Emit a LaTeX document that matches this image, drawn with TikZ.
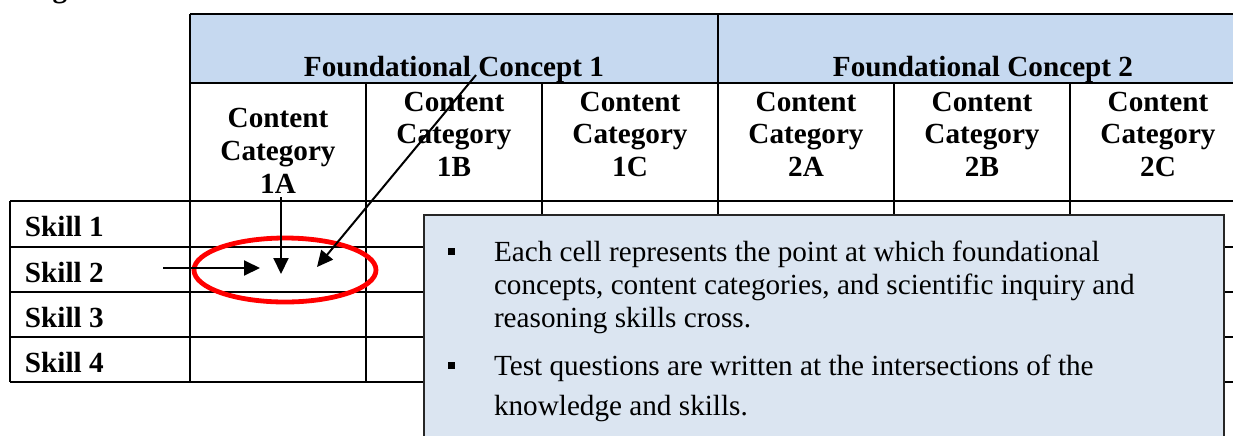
\documentclass[tikz,border=0pt]{standalone}
\usepackage{fontspec}
\setmainfont{Liberation Serif}
\usetikzlibrary{arrows.meta}
\definecolor{hdrblue}{RGB}{198,217,240}
\definecolor{notefill}{RGB}{219,229,241}
\newcommand{\ft}{\fontsize{14.6}{16.4}\selectfont}
\tikzset{
  hd/.style={inner sep=0pt,font=\ft\bfseries},
  txt/.style={inner sep=0pt,font=\ft},
  bul/.style={fill,inner sep=0pt,minimum size=3.5pt},
  pointer/.style={-{Triangle[length=8pt,width=7.5pt]},line width=1pt}
}

\begin{document}
\begin{tikzpicture}[x=0.5pt,y=-0.5pt,line width=1pt]
\useasboundingbox (0,0) rectangle (1233,435);
\node[hd,anchor=base] (g) at (60,-3) {g};
% table
\fill[hdrblue] (190,14) rectangle (1233,83);
\draw (190,14) -- (1233,14) (190,83) -- (1233,83) (10,201) -- (1233,201);
\foreach \y in {246.5,291.7,336.7,381.7} \draw (10,\y) -- (1233,\y);
\draw (10,201) -- (10,381.7) (190,14) -- (190,381.7) (718,14) -- (718,381.7);
\foreach \x in {366,542,894,1070} \draw (\x,83) -- (\x,381.7);
\node[hd,anchor=base] (fc1) at (454,76) {Foundational Concept 1};
\node[hd,anchor=base] (fc2) at (983,76) {Foundational Concept 2};
% multi-line nodes sit on their last line
\node[hd,anchor=base,align=center] (cat1A) at (278,193.3) {Content\\Category\\1A};
\foreach \c/\x in {1B/454,1C/630,2A/806,2B/982,2C/1158}
  \node[hd,anchor=base,align=center] (cat\c) at (\x,176.7) {Content\\Category\\\c};
\foreach \i in {1,...,4}
  \node[hd,anchor=base west] (sk\i) at (24,{236.7+45.3*(\i-1)}) {Skill \i};
% pointers
\coordinate (hs) at (163,268);
\coordinate (ht) at (260,268);
\coordinate (vs) at (281,197);
\coordinate (vt) at (281,274);
\coordinate (ds) at (476,75);
\coordinate (dt) at (317,267);
\draw[red,line width=2.4pt] (285,270) ellipse [x radius=91,y radius=32];
\draw[pointer] (hs) -- (ht);
\draw[pointer] (vs) -- (vt);
\draw[pointer] (ds) -- (dt);
% note
\filldraw[fill=notefill,draw=black!85,line width=1.3pt] (424,215) rectangle (1224,450);
\node[bul] (sq1) at (451.5,251.5) {};
\node[bul] (sq2) at (451.5,365.5) {};
\node[txt,anchor=base west,align=left] (note1) at (493,327.5)
  {Each cell represents the point at which foundational\\concepts, content categories, and scientific inquiry and\\reasoning skills cross.};
\node[txt,anchor=base west,align=left] (note2) at (493,415)
  {Test questions are written at the intersections of the\\[3.6pt]knowledge and skills.};
\end{tikzpicture}
\end{document}
